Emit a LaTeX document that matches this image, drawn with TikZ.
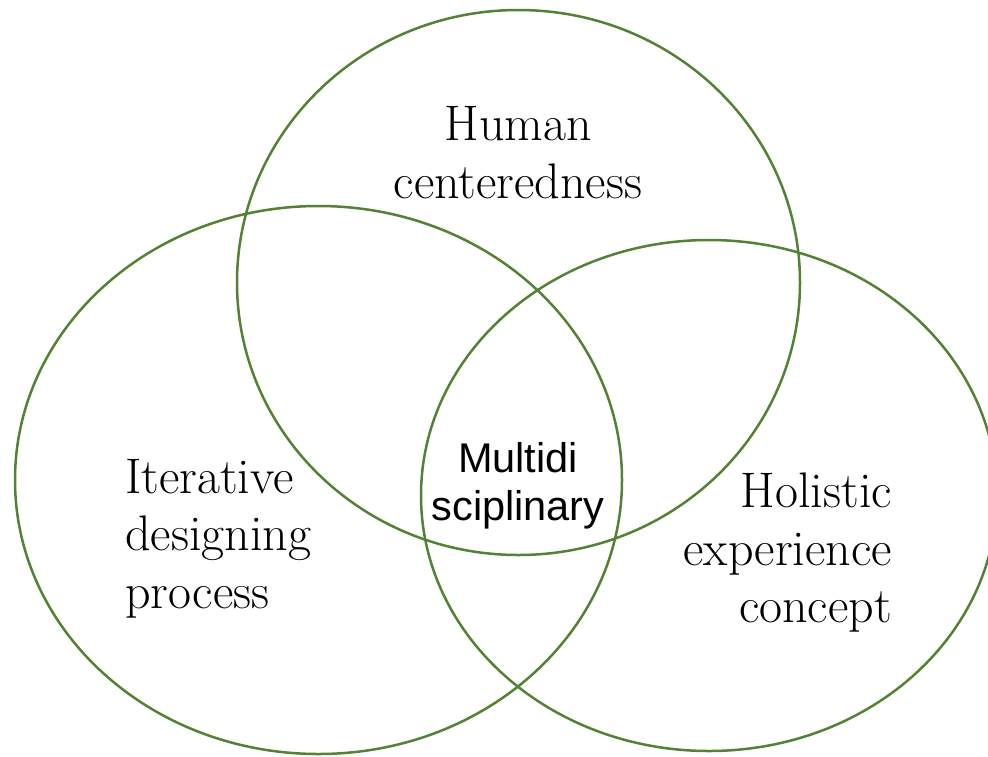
\documentclass[tikz,border=0pt]{standalone}
\usepackage{fontspec}
\newfontfamily\labelsans{Liberation Sans}
\definecolor{ringgreen}{RGB}{84,130,53}
\begin{document}
\begin{tikzpicture}[x=1pt,y=-1pt,
  ring/.style={draw=ringgreen,line width=2.5pt},
  serifcap/.style={inner sep=0pt,font=\fontsize{50}{57.5}\selectfont},
  sanscap/.style={inner sep=0pt,align=center,font=\labelsans\fontsize{41.5}{48}\selectfont}]
  \useasboundingbox[fill=white] (0,0) rectangle (988,756);
  \clip (0,0) rectangle (988,756);
  % the three overlapping sets
  \draw[ring] (518.5,282.5) ellipse [x radius=281.5, y radius=272.5];
  \draw[ring] (318.5,480) ellipse [x radius=303.5, y radius=274];
  \draw[ring] (709,495.5) ellipse [x radius=288, y radius=255.5];
  % set labels (anchored on the baseline of their last line)
  \node[serifcap,align=center,anchor=base] (human) at (518,198) {Human\\centeredness};
  \node[serifcap,align=left,anchor=base west] (iter) at (125,608) {Iterative\\designing\\process};
  \node[serifcap,align=right,anchor=base east] (holis) at (892,622.5) {Holistic\\experience\\concept};
  % shared centre
  \node[sanscap,anchor=base] (multi) at (518,520) {Multidi\\sciplinary};
\end{tikzpicture}
\end{document}
